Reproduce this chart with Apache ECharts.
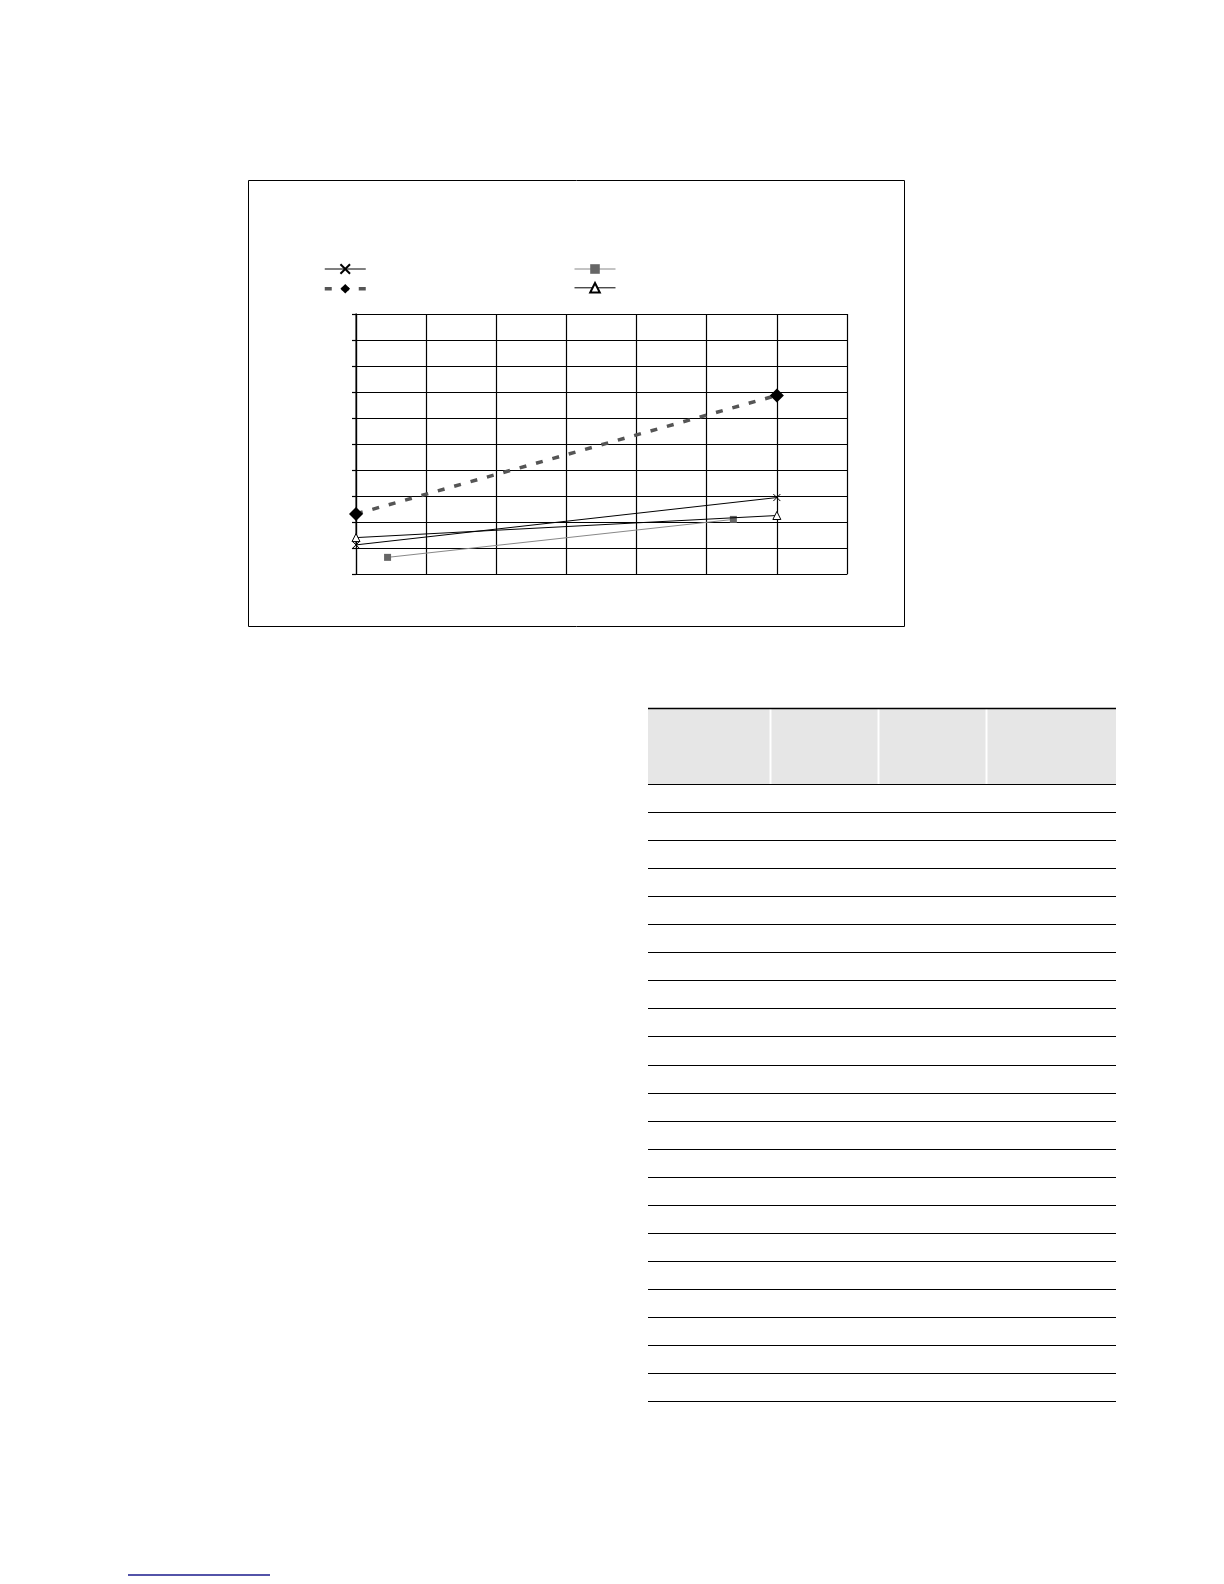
<!DOCTYPE html>
<html>
<head>
<meta charset="utf-8">
<script src="https://cdn.jsdelivr.net/npm/echarts@6/dist/echarts.min.js"></script>
<style>
  html, body { margin: 0; padding: 0; background: #fff; }
  #mainChart { width: 1224px; height: 1584px; }
</style>
</head>
<body>
<div id="mainChart"></div>
<script>
// values (x: 0..7, y: 0..10)
let crossX = [0, 0, 6];
let crossY = [10.05, 1.12, 2.94];
let squareX = [0.45, 5.38];
let squareY = [0.64, 2.10];
let diamondX = [0, 6];
let diamondY = [2.31, 6.87];
let triangleX = [0, 6];
let triangleY = [1.40, 2.25];

let tableRows = 22;

let mainChart = echarts.init(document.getElementById('mainChart'));

function pairs(xs, ys) {
  return xs.map((x, i) => [x, ys[i]]);
}

// table lines under the chart
let tableGraphics = [
  { type: 'rect', shape: { x: 648, y: 709, width: 468, height: 75 }, style: { fill: '#e6e6e6' } },
  { type: 'line', shape: { x1: 770.5, y1: 709, x2: 770.5, y2: 784 }, style: { stroke: '#fff', lineWidth: 2 } },
  { type: 'line', shape: { x1: 878.5, y1: 709, x2: 878.5, y2: 784 }, style: { stroke: '#fff', lineWidth: 2 } },
  { type: 'line', shape: { x1: 986.5, y1: 709, x2: 986.5, y2: 784 }, style: { stroke: '#fff', lineWidth: 2 } },
  { type: 'line', shape: { x1: 648, y1: 708.5, x2: 1116, y2: 708.5 }, style: { stroke: '#000', lineWidth: 1.5 } }
];
for (let i = 0; i <= tableRows; i++) {
  let y = Math.round(784 + i * 28.05) + 0.5;
  tableGraphics.push({
    type: 'line',
    shape: { x1: 648, y1: y, x2: 1116, y2: y },
    style: { stroke: '#000', lineWidth: 1.2 }
  });
}

let legendBase = {
  orient: 'vertical',
  top: 263,
  padding: 0,
  itemWidth: 41,
  itemHeight: 12,
  itemGap: 8,
  formatter: () => '',
  selectedMode: false,
  lineStyle: { width: 'inherit' }
};

let mainOptions = {
  backgroundColor: '#fff',
  animation: false,
  graphic: [
    { type: 'rect', shape: { x: 248.5, y: 180.5, width: 656, height: 446 }, style: { fill: 'none', stroke: '#000', lineWidth: 1 } },
    { type: 'line', shape: { x1: 128, y1: 1575, x2: 270, y2: 1575 }, style: { stroke: '#1a1a8c', lineWidth: 1.5 } }
  ].concat(tableGraphics),
  legend: [
    Object.assign({}, legendBase, { left: 323, data: ['s1', 's3'] }),
    Object.assign({}, legendBase, { left: 574, data: ['s2', 's4'] })
  ],
  grid: {
    left: 356,
    top: 314,
    width: 491,
    height: 260,
    containLabel: false
  },
  xAxis: {
    type: 'value',
    min: 0,
    max: 7,
    interval: 1,
    axisLabel: { show: false },
    axisTick: { show: false },
    axisLine: { show: true, lineStyle: { color: '#000', width: 1.2 } },
    splitLine: { show: true, lineStyle: { color: '#000', width: 1.2 } }
  },
  yAxis: {
    type: 'value',
    min: 0,
    max: 10,
    interval: 1,
    axisLabel: { show: false },
    axisTick: { show: true, length: 4, lineStyle: { color: '#000', width: 1.2 } },
    axisLine: { show: true, lineStyle: { color: '#000', width: 1.2 } },
    splitLine: { show: true, lineStyle: { color: '#000', width: 1.2 } }
  },
  series: [
    {
      name: 's1',
      type: 'line',
      data: pairs(crossX, crossY),
      symbol: 'path://M0,0L10,10M10,0L0,10',
      symbolSize: 7,
      itemStyle: { color: '#000', borderColor: '#000', borderWidth: 1 },
      lineStyle: { color: '#000', width: 1 },
      z: 4
    },
    {
      name: 's2',
      type: 'line',
      data: pairs(squareX, squareY),
      symbol: 'rect',
      symbolSize: 7,
      itemStyle: { color: '#666' },
      lineStyle: { color: '#888', width: 1 },
      z: 3
    },
    {
      name: 's3',
      type: 'line',
      data: pairs(diamondX, diamondY),
      symbol: 'diamond',
      symbolSize: 14,
      itemStyle: { color: '#000' },
      lineStyle: { color: '#555', width: 3.5, type: [7, 10] },
      z: 5
    },
    {
      name: 's4',
      type: 'line',
      data: pairs(triangleX, triangleY),
      symbol: 'triangle',
      symbolSize: 8,
      itemStyle: { color: '#fff', borderColor: '#000', borderWidth: 1 },
      lineStyle: { color: '#000', width: 1 },
      z: 4
    }
  ]
};

mainChart.setOption(mainOptions);
</script>
</body>
</html>
